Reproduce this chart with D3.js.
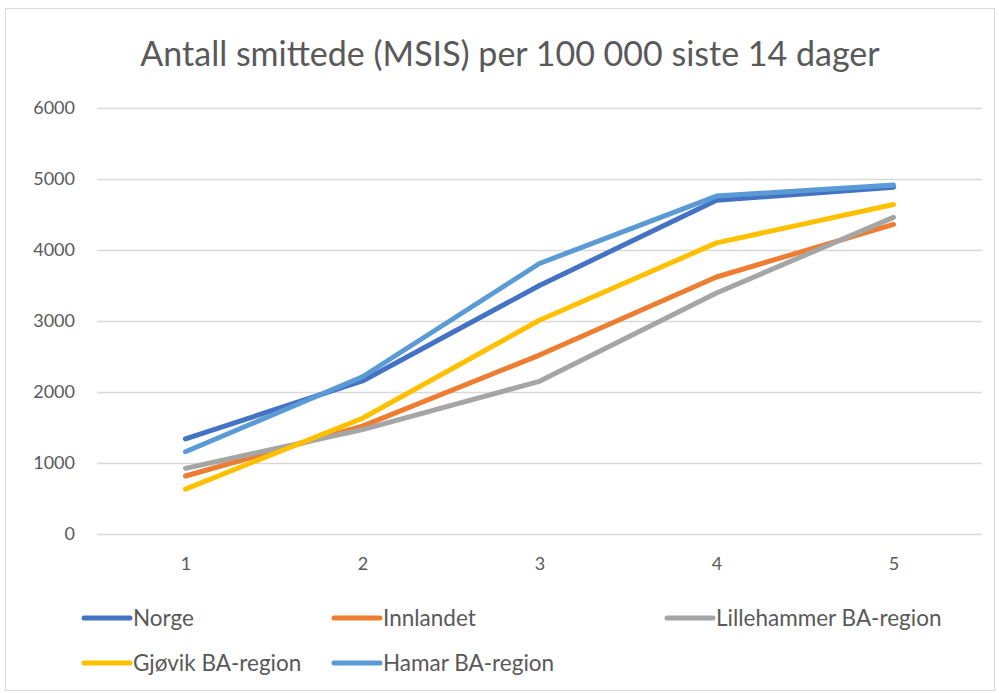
<!DOCTYPE html>
<html>
<head>
<meta charset="utf-8">
<script src="https://cdn.jsdelivr.net/npm/d3@7"></script>
<style>
  body { margin: 0; background: #fff; }
  text { font-family: Lato, "Open Sans", sans-serif; fill: #595959; }
</style>
</head>
<body>
<svg id="chart" width="999" height="693"></svg>
<script>
  var categories = ["1", "2", "3", "4", "5"];
  var seriesNames = ["Norge", "Innlandet", "Lillehammer BA-region", "Gjøvik BA-region", "Hamar BA-region"];
  var norge = [1340, 2155, 3500, 4700, 4885];
  var innlandet = [817, 1520, 2520, 3620, 4360];
  var lillehammer = [925, 1470, 2150, 3394, 4460];
  var gjovik = [632, 1630, 3010, 4100, 4640];
  var hamar = [1158, 2215, 3810, 4760, 4915];
  var yTicks = [0, 1000, 2000, 3000, 4000, 5000, 6000];
  var colors = ["#4472C4", "#ED7D31", "#A5A5A5", "#FFC000", "#5B9BD5"];

  var allSeries = [norge, innlandet, lillehammer, gjovik, hamar];

  var svg = d3.select("#chart");
  var width = +svg.attr("width");
  var height = +svg.attr("height");
  var margin = { top: 108, right: 17, bottom: 159, left: 97 };
  var innerWidth = width - margin.left - margin.right;
  var innerHeight = height - margin.top - margin.bottom;

  // chart border
  svg.append("rect")
    .attr("x", 5.5).attr("y", 8.5)
    .attr("width", 989).attr("height", 682)
    .attr("fill", "none")
    .attr("stroke", "#d9d9d9");

  svg.append("text")
    .attr("x", 510).attr("y", 66)
    .attr("text-anchor", "middle")
    .attr("font-size", 34)
    .text("Antall smittede (MSIS) per 100 000 siste 14 dager");

  var xScale = d3.scalePoint()
    .domain(categories)
    .range([0, innerWidth])
    .padding(0.5);

  var yScale = d3.scaleLinear()
    .domain([0, 6000])
    .range([innerHeight, 0]);

  var g = svg.append("g")
    .attr("transform", "translate(" + margin.left + "," + margin.top + ")");

  // gridlines
  g.selectAll("line.grid")
    .data(yTicks)
    .enter().append("line")
    .attr("class", "grid")
    .attr("x1", 0).attr("x2", innerWidth)
    .attr("y1", function (d) { return Math.round(yScale(d)) + 0.5; })
    .attr("y2", function (d) { return Math.round(yScale(d)) + 0.5; })
    .attr("stroke", "#d9d9d9")
    .attr("stroke-width", 1.3);

  var yAxis = d3.axisLeft(yScale).tickValues(yTicks).tickFormat(d3.format("d")).tickSize(0).tickPadding(22);
  var yAxisG = g.append("g").call(yAxis)
    .attr("font-size", 18)
    .attr("font-family", null);
  yAxisG.select(".domain").remove();
  yAxisG.selectAll("text").attr("fill", "#595959");

  var xAxis = d3.axisBottom(xScale).tickSize(0).tickPadding(23);
  var xAxisG = g.append("g")
    .attr("transform", "translate(0," + innerHeight + ")")
    .call(xAxis)
    .attr("font-size", 18)
    .attr("font-family", null);
  xAxisG.select(".domain").remove();
  xAxisG.selectAll("text").attr("fill", "#595959");

  var line = d3.line()
    .x(function (d, i) { return xScale(categories[i]); })
    .y(function (d) { return yScale(d); });

  g.selectAll("path.series")
    .data(allSeries)
    .enter().append("path")
    .attr("class", "series")
    .attr("d", line)
    .attr("fill", "none")
    .attr("stroke", function (d, i) { return colors[i]; })
    .attr("stroke-width", 5)
    .attr("stroke-linecap", "round")
    .attr("stroke-linejoin", "round");

  // legend
  var legendPos = [[82, 618], [332, 618], [665, 618], [82, 663], [332, 663]];
  var legend = svg.selectAll("g.legend")
    .data(seriesNames)
    .enter().append("g")
    .attr("class", "legend")
    .attr("transform", function (d, i) { return "translate(" + legendPos[i][0] + "," + legendPos[i][1] + ")"; });

  legend.append("line")
    .attr("x1", 2).attr("x2", 48)
    .attr("y1", 0).attr("y2", 0)
    .attr("stroke", function (d, i) { return colors[i]; })
    .attr("stroke-width", 5)
    .attr("stroke-linecap", "round");

  legend.append("text")
    .attr("x", 51).attr("y", 0)
    .attr("dy", "0.35em")
    .attr("font-size", 22.5)
    .text(function (d) { return d; });
</script>
</body>
</html>
